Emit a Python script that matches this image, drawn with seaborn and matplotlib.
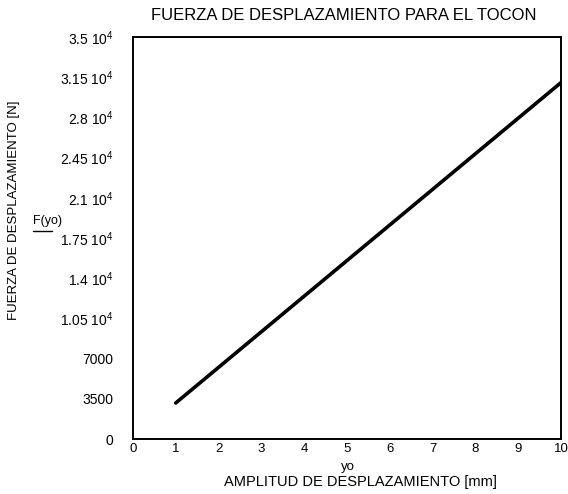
import matplotlib
matplotlib.use("Agg")
import matplotlib.pyplot as plt
import seaborn as sns
import pandas as pd

# Displacement amplitude yo [mm] and resulting stump displacement force F(yo) [N]
yo = [1, 2, 3, 4, 5, 6, 7, 8, 9, 10]
fuerza = [3150, 6250, 9350, 12450, 15550, 18650, 21750, 24850, 27950, 31050]

y_ticks = [0, 3500, 7000, 10500, 14000, 17500, 21000, 24500, 28000, 31500, 35000]
y_tick_labels = ["0", "3500", "7000", r"1.05 10$^4$", r"1.4 10$^4$", r"1.75 10$^4$",
                 r"2.1 10$^4$", r"2.45 10$^4$", r"2.8 10$^4$", r"3.15 10$^4$", r"3.5 10$^4$"]
x_ticks = [0, 1, 2, 3, 4, 5, 6, 7, 8, 9, 10]

df = pd.DataFrame({"yo": yo, "F": fuerza})

sns.set_theme(style="white")
plt.rcParams["font.family"] = ["Liberation Sans", "DejaVu Sans"]
plt.rcParams["mathtext.fontset"] = "custom"
plt.rcParams["mathtext.rm"] = "Liberation Sans"
plt.rcParams["text.color"] = "black"
plt.rcParams["xtick.color"] = "black"
plt.rcParams["ytick.color"] = "black"

fig = plt.figure(figsize=(5.68, 4.94), dpi=100)
ax = fig.add_axes([0.234, 0.111, 0.754, 0.814])

sns.lineplot(data=df, x="yo", y="F", ax=ax, color="black", linewidth=2.6)

ax.set_xlim(0, 10)
ax.set_ylim(0, 35000)
ax.set_xticks(x_ticks)
ax.set_xticklabels([str(t) for t in x_ticks], fontsize=9.5)
ax.set_yticks(y_ticks)
ax.set_yticklabels(y_tick_labels, fontsize=10)
ax.tick_params(axis="x", length=0, pad=3)
ax.tick_params(axis="y", length=0, pad=14)

for s in ax.spines.values():
    s.set_color("black")
    s.set_linewidth(1.4)

ax.set_xlabel("")
ax.set_ylabel("")

fig.text(0.606, 0.968, "FUERZA DE DESPLAZAMIENTO PARA EL TOCON", ha="center", va="center", fontsize=12)
fig.text(0.612, 0.055, "yo", ha="center", va="center", fontsize=9.5)
fig.text(0.634, 0.024, "AMPLITUD DE DESPLAZAMIENTO [mm]", ha="center", va="center", fontsize=10.5)
fig.text(0.025, 0.575, "FUERZA DE DESPLAZAMIENTO [N]", ha="center", va="center", rotation=90, fontsize=9.5)
fig.text(0.084, 0.553, "F(yo)", ha="center", va="center", fontsize=9)
fig.add_artist(plt.Line2D([0.058, 0.092], [0.532, 0.532], color="black", linewidth=1.0))

fig.savefig("out.png", dpi=100)
